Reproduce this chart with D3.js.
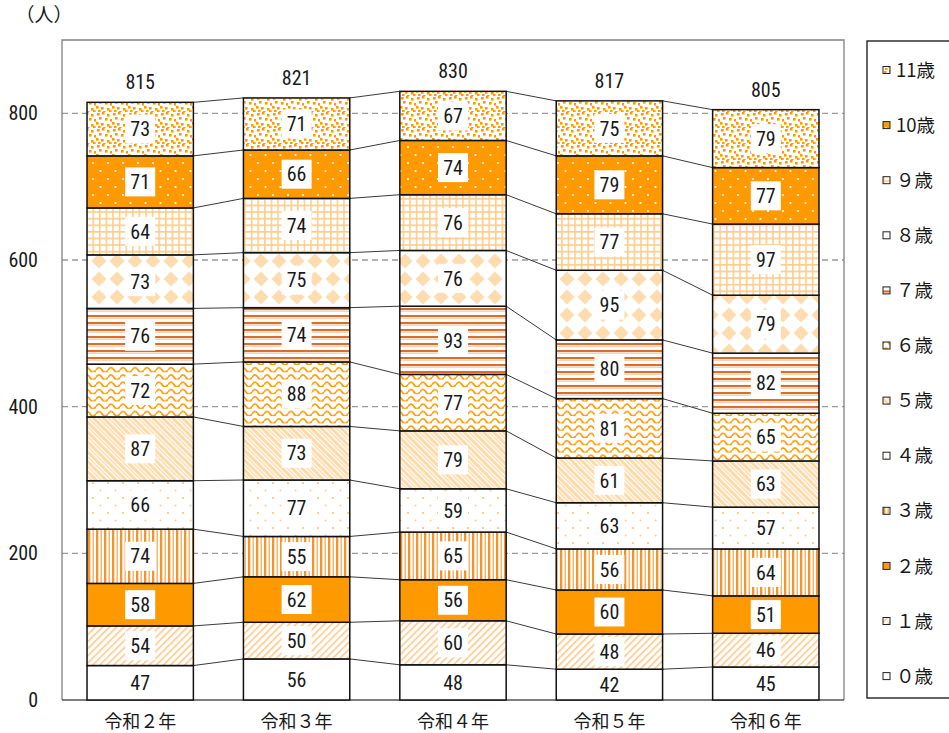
<!DOCTYPE html>
<html lang="ja">
<head>
<meta charset="utf-8">
<script src="https://cdn.jsdelivr.net/npm/d3@7"></script>
<style>
  html, body { margin: 0; padding: 0; background: #fff; }
  svg { display: block; }
  .num { font-family: "Liberation Sans Narrow", "Arial Narrow", "Roboto Condensed", "Liberation Sans", sans-serif; }
  .jp { font-family: "Noto Sans CJK JP", "Noto Sans", sans-serif; }
</style>
</head>
<body>
<svg id="chart" width="949" height="733"></svg>
<script>
// 年度ごとの年齢別児童数（0歳〜11歳）
const years = ["令和２年", "令和３年", "令和４年", "令和５年", "令和６年"];
const ages = ["0歳", "1歳", "2歳", "3歳", "4歳", "5歳", "6歳", "7歳", "8歳", "9歳", "10歳", "11歳"];
const legendLabels = ["０歳", "１歳", "２歳", "３歳", "４歳", "５歳", "６歳", "７歳", "８歳", "９歳", "10歳", "11歳"];

const age0  = [47, 56, 48, 42, 45];
const age1  = [54, 50, 60, 48, 46];
const age2  = [58, 62, 56, 60, 51];
const age3  = [74, 55, 65, 56, 64];
const age4  = [66, 77, 59, 63, 57];
const age5  = [87, 73, 79, 61, 63];
const age6  = [72, 88, 77, 81, 65];
const age7  = [76, 74, 93, 80, 82];
const age8  = [73, 75, 76, 95, 79];
const age9  = [64, 74, 76, 77, 97];
const age10 = [71, 66, 74, 79, 77];
const age11 = [73, 71, 67, 75, 79];

const totals = [815, 821, 830, 817, 805];
const yTicks = [0, 200, 400, 600, 800];

const seriesValues = [age0, age1, age2, age3, age4, age5, age6, age7, age8, age9, age10, age11];
const rows = years.map((y, i) => {
  const r = { year: y };
  ages.forEach((a, k) => { r[a] = seriesValues[k][i]; });
  return r;
});

const svg = d3.select("#chart");
const defs = svg.append("defs");

const ORANGE = "#ff9900";
const LIGHT = "#ffdcb0";

// ---- fill patterns, one per age ----
function pat(id, w, h, transform) {
  const p = defs.append("pattern").attr("id", id)
    .attr("patternUnits", "userSpaceOnUse").attr("width", w).attr("height", h);
  if (transform) p.attr("patternTransform", transform);
  p.append("rect").attr("width", w).attr("height", h).attr("fill", "#fff");
  return p;
}
// 1歳: fine "/" hatching
{ const p = pat("p1", 5, 5, "rotate(45)");
  p.append("rect").attr("x", 0).attr("width", 1.6).attr("height", 5).attr("fill", "#ffc98a"); }
// 3歳: vertical stripes
{ const p = pat("p3", 8, 8);
  p.append("rect").attr("x", 0).attr("width", 2.3).attr("height", 8).attr("fill", "#f29428");
  p.append("rect").attr("x", 4.5).attr("width", 1.4).attr("height", 8).attr("fill", "#f5b060"); }
// 4歳: sparse dots
{ const p = pat("p4", 15, 15);
  p.append("circle").attr("cx", 3).attr("cy", 3).attr("r", 1.1).attr("fill", "#ffc07a");
  p.append("circle").attr("cx", 10.5).attr("cy", 10.5).attr("r", 1.1).attr("fill", "#ffd09a"); }
// 5歳: wide "\" hatching
{ const p = pat("p5", 7, 7, "rotate(-45)");
  p.append("rect").attr("x", 0).attr("width", 3).attr("height", 7).attr("fill", "#ffd9a6");
  p.append("rect").attr("x", 4.6).attr("width", 1).attr("height", 7).attr("fill", "#ffc680"); }
// 6歳: waves
{ const p = pat("p6", 12, 7.3);
  p.append("path").attr("d", "M0,5 Q3,0.3 6,5 T12,5")
    .attr("fill", "none").attr("stroke", ORANGE).attr("stroke-width", 1.7); }
// 7歳: horizontal stripes
{ const p = pat("p7", 7, 7);
  p.append("rect").attr("y", 0).attr("width", 7).attr("height", 2).attr("fill", "#d96e2c");
  p.append("rect").attr("y", 2.6).attr("width", 7).attr("height", 1).attr("fill", "#f2b88c"); }
// 8歳: diamond checkerboard
{ const p = pat("p8", 18, 18);
  p.append("path").attr("d", "M9,1.5 L16.5,9 L9,16.5 L1.5,9 Z").attr("fill", LIGHT); }
// 9歳: grid
{ const p = pat("p9", 6.6, 6.6);
  p.append("path").attr("d", "M0,0.8 H6.6 M0.8,0 V6.6")
    .attr("stroke", "#ffcc8c").attr("stroke-width", 1.6); }
// 10歳: solid orange with white dots
{ const p = defs.append("pattern").attr("id", "p10")
    .attr("patternUnits", "userSpaceOnUse").attr("width", 15).attr("height", 16);
  p.append("rect").attr("width", 15).attr("height", 16).attr("fill", ORANGE);
  p.append("circle").attr("cx", 3).attr("cy", 3).attr("r", 1.1).attr("fill", "#fff");
  p.append("circle").attr("cx", 10.5).attr("cy", 11).attr("r", 1.1).attr("fill", "#fff"); }
// 11歳: confetti squares
{ const p = pat("p11", 16, 16);
  const sq = [[1,1],[6,0],[11,2],[3,5],[9,6],[14,7],[0,10],[5,11],[11,12],[7,15],[13,14],[2,14]];
  sq.forEach(([x, y]) => p.append("rect").attr("x", x).attr("y", y)
    .attr("width", 2.6).attr("height", 2.6).attr("fill", ORANGE)); }

const fills = ["#ffffff", "url(#p1)", ORANGE, "url(#p3)", "url(#p4)", "url(#p5)",
               "url(#p6)", "url(#p7)", "url(#p8)", "url(#p9)", "url(#p10)", "url(#p11)"];

// ---- scales ----
const plot = { left: 62, right: 844, top: 40, bottom: 700 };
const x = d3.scaleBand().domain(years).range([plot.left, plot.right])
  .paddingInner(0.32).paddingOuter(0.16);
const y = d3.scaleLinear().domain([0, 900]).range([plot.bottom, plot.top]);

const stacked = d3.stack().keys(ages)(rows);

// gridlines
svg.append("g").selectAll("line").data(yTicks.filter(t => t > 0)).join("line")
  .attr("x1", plot.left).attr("x2", plot.right)
  .attr("y1", d => y(d)).attr("y2", d => y(d))
  .attr("stroke", "#9a9a9a").attr("stroke-width", 1.3).attr("stroke-dasharray", "6,4");

// plot frame
svg.append("path")
  .attr("d", `M${plot.left},${plot.bottom} V${plot.top} H${plot.right} V${plot.bottom}`)
  .attr("fill", "none").attr("stroke", "#808080").attr("stroke-width", 1.3);
svg.append("line").attr("x1", plot.left).attr("x2", plot.right)
  .attr("y1", plot.bottom).attr("y2", plot.bottom)
  .attr("stroke", "#555").attr("stroke-width", 1.3);

// connector lines between bars
const conn = svg.append("g").attr("stroke", "#3a3a3a").attr("stroke-width", 1).attr("fill", "none");
stacked.forEach(s => {
  for (let i = 0; i < years.length - 1; i++) {
    conn.append("line")
      .attr("x1", x(years[i]) + x.bandwidth()).attr("y1", y(s[i][1]))
      .attr("x2", x(years[i + 1])).attr("y2", y(s[i + 1][1]));
  }
});

// segments
const seg = svg.append("g").selectAll("g").data(stacked).join("g")
  .attr("fill", (d, k) => fills[k]);
seg.selectAll("rect").data(d => d).join("rect")
  .attr("x", d => x(d.data.year))
  .attr("y", d => y(d[1]))
  .attr("width", x.bandwidth())
  .attr("height", d => y(d[0]) - y(d[1]))
  .attr("stroke", "#111").attr("stroke-width", 1.5);

// value labels on white boxes
const lab = svg.append("g");
stacked.forEach(s => {
  s.forEach(d => {
    const cx = x(d.data.year) + x.bandwidth() / 2;
    const cy = (y(d[0]) + y(d[1])) / 2;
    const v = d[1] - d[0];
    if (s.index > 0) {
      lab.append("rect").attr("x", cx - 15).attr("y", cy - 14.5)
        .attr("width", 30).attr("height", 29).attr("fill", "#fff");
    }
    lab.append("text").attr("class", "num")
      .attr("x", cx).attr("y", cy).attr("dy", "0.36em")
      .attr("text-anchor", "middle").attr("font-size", 20).attr("fill", "#1a1a1a")
      .text(v);
  });
});

// totals above bars
svg.append("g").selectAll("text").data(years).join("text")
  .attr("class", "num")
  .attr("x", d => x(d) + x.bandwidth() / 2)
  .attr("y", (d, i) => y(totals[i]) - 13)
  .attr("text-anchor", "middle").attr("font-size", 20).attr("fill", "#1a1a1a")
  .text((d, i) => totals[i]);

// y axis
const yAxis = svg.append("g").attr("transform", `translate(${plot.left},0)`)
  .call(d3.axisLeft(y).tickValues(yTicks).tickSize(0).tickPadding(24));
yAxis.select(".domain").remove();
yAxis.selectAll("text").attr("class", "num").attr("font-size", 20).attr("fill", "#1a1a1a")
  .attr("font-family", null);

// x axis
const xAxis = svg.append("g").attr("transform", `translate(0,${plot.bottom})`)
  .call(d3.axisBottom(x).tickSize(0).tickPadding(15));
xAxis.select(".domain").remove();
xAxis.selectAll("text").attr("class", "jp").attr("font-size", 18).attr("fill", "#1a1a1a")
  .attr("font-family", null);

// unit label
svg.append("text").attr("class", "jp").attr("x", 44).attr("y", 15).attr("dy", "0.36em")
  .attr("text-anchor", "middle").attr("font-size", 19).attr("fill", "#1a1a1a").text("（人）");

// legend
svg.append("rect").attr("x", 867).attr("y", 41).attr("width", 110).attr("height", 657)
  .attr("fill", "#fff").attr("stroke", "#111").attr("stroke-width", 1.3);
const legend = svg.append("g").selectAll("g").data(ages.map((a, k) => k).reverse()).join("g")
  .attr("transform", (k, i) => `translate(883,${70 + i * 55.1})`);
legend.append("rect").attr("x", 0).attr("y", -3.5).attr("width", 7).attr("height", 7)
  .attr("fill", k => fills[k]).attr("stroke", "#222").attr("stroke-width", 1);
legend.append("text").attr("class", "jp").attr("x", 13).attr("dy", "0.36em")
  .attr("font-size", 18.5).attr("fill", "#1a1a1a").text(k => legendLabels[k]);
</script>
</body>
</html>
